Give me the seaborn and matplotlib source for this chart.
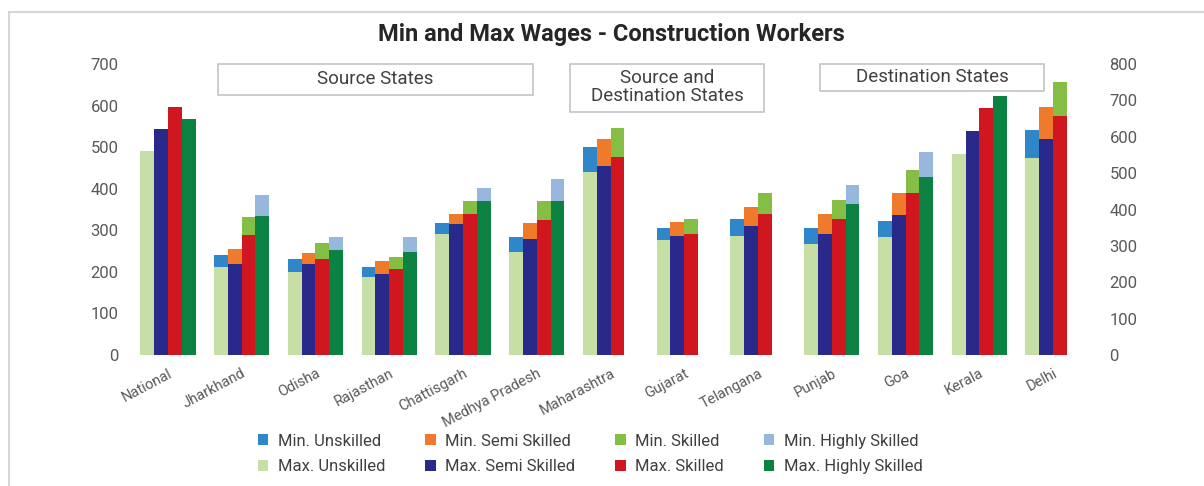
import numpy as np
import pandas as pd
import matplotlib
matplotlib.use("Agg")
import matplotlib.pyplot as plt
from matplotlib.patches import Rectangle, Patch
from matplotlib.lines import Line2D
import seaborn as sns

# ---------------------------------------------------------------- data
states = ["National", "Jharkhand", "Odisha", "Rajasthan", "Chattisgarh",
          "Medhya Pradesh", "Maharashtra", "Gujarat", "Telangana", "Punjab",
          "Goa", "Kerala", "Delhi"]
skills = ["Unskilled", "Semi Skilled", "Skilled", "Highly Skilled"]

nan = np.nan
# minimum daily wages (left axis)
min_unskilled = [nan, 240, 230, 212, 317, 283, 500, 306, 328, 306, 323, nan, 541]
min_semi      = [nan, 254, 245, 225, 339, 317, 519, 319, 357, 338, 389, nan, 597]
min_skilled   = [nan, 333, 269, 236, 371, 371, 545, 327, 389, 374, 445, nan, 656]
min_highly    = [nan, 384, 285, 285, 402, 423, nan, nan, nan, 410, 488, nan, nan]
# maximum daily wages (right axis)
max_unskilled = [562, 243, 229, 215, 333, 284, 502, 316, 327, 306, 324, 553, 542]
max_semi      = [622, 251, 249, 222, 359, 318, 519, 327, 354, 333, 384, 616, 594]
max_skilled   = [681, 331, 265, 236, 389, 370, 544, 333, 389, 373, 444, 680, 658]
max_highly    = [648, 381, 290, 283, 423, 423, nan, nan, nan, 416, 488, 713, nan]

groups = ["Source States", "Source and\nDestination States", "Destination States"]

min_colors = ["#2f86c9", "#f07a2c", "#84be45", "#98b7dd"]
max_colors = ["#c6dfa6", "#28298a", "#d0171f", "#0b8142"]


def long_frame(series):
    rows = []
    for skill, vals in zip(skills, series):
        for st, v in zip(states, vals):
            if not np.isnan(v):
                rows.append({"State": st, "Skill": skill, "Wage": v})
    return pd.DataFrame(rows)


df_min = long_frame([min_unskilled, min_semi, min_skilled, min_highly])
df_max = long_frame([max_unskilled, max_semi, max_skilled, max_highly])

# ---------------------------------------------------------------- style
sns.set_theme(style="white")
plt.rcParams["font.family"] = ["Roboto", "DejaVu Sans"]

W, H = 1204, 486
fig = plt.figure(figsize=(W / 100, H / 100), dpi=100)


def fx(px):
    return px / W


def fy(py):
    return 1 - py / H


ax = fig.add_axes([fx(131), fy(355), fx(1090) - fx(131), fy(64) - fy(355)])
ax2 = ax.twinx()

common = dict(x="State", y="Wage", hue="Skill", order=states, hue_order=skills,
              width=0.75, saturation=1, errorbar=None, linewidth=0, legend=False)
sns.barplot(data=df_min, palette=min_colors, ax=ax, **common)
sns.barplot(data=df_max, palette=max_colors, ax=ax2, **common)

ax.set_xlim(-0.5, len(states) - 0.5)
ax.set_ylim(0, 700)
ax2.set_ylim(0, 800)
ax.set_yticks(range(0, 701, 100))
ax2.set_yticks(range(0, 801, 100))
for a in (ax, ax2):
    a.set_xlabel("")
    a.set_ylabel("")
    for s in a.spines.values():
        s.set_visible(False)
    a.grid(False)

tick_color = "#595959"
ax.tick_params(axis="y", length=0, labelsize=12, labelcolor=tick_color, pad=9)
ax2.tick_params(axis="y", length=0, labelsize=12, labelcolor=tick_color, pad=14)
ax.set_xticks(range(len(states)))
ax.set_xticklabels(states, rotation=28, ha="right", rotation_mode="anchor")
ax.tick_params(axis="x", length=0, labelsize=10.5, labelcolor=tick_color, pad=8)

# ---------------------------------------------------------------- title
fig.text(fx(611), fy(35), "Min and Max Wages - Construction Workers",
         ha="center", va="center", fontsize=17, fontweight="bold", color="#262626")

# ---------------------------------------------------------------- group boxes
boxes = [(218, 533, 64, 95), (570, 764, 64, 112), (820, 1044, 64, 91)]
for label, (x0, x1, y0, y1) in zip(groups, boxes):
    fig.add_artist(Rectangle((fx(x0), fy(y1)), fx(x1) - fx(x0), fy(y0) - fy(y1),
                             transform=fig.transFigure, facecolor="white",
                             edgecolor="#c4c4c4", linewidth=1.2))
    fig.text(fx((x0 + x1) / 2), fy((y0 + y1) / 2 - 1), label, ha="center", va="center",
             fontsize=13.5, color="#404040", linespacing=0.95)

# ---------------------------------------------------------------- legend
handles, labels = [], []
for i, sk in enumerate(skills):
    handles.append(Patch(facecolor=min_colors[i], edgecolor="none"))
    labels.append(f"Min. {sk}")
    handles.append(Patch(facecolor=max_colors[i], edgecolor="none"))
    labels.append(f"Max. {sk}")
fig.legend(handles, labels, ncol=4, loc="center", bbox_to_anchor=(fx(590), fy(454)),
           frameon=False, fontsize=12, handlelength=0.65, handleheight=0.65,
           handletextpad=0.55, columnspacing=2.4, labelspacing=0.65,
           labelcolor="#404040")

# ---------------------------------------------------------------- frame lines
fig.add_artist(Line2D([fx(9), 1], [fy(12), fy(12)], transform=fig.transFigure,
                      color="#d6d6d6", linewidth=1.5))
fig.add_artist(Line2D([fx(9), fx(9)], [fy(12), 0], transform=fig.transFigure,
                      color="#d6d6d6", linewidth=1.5))

fig.savefig("out.png", dpi=100, facecolor="white")
